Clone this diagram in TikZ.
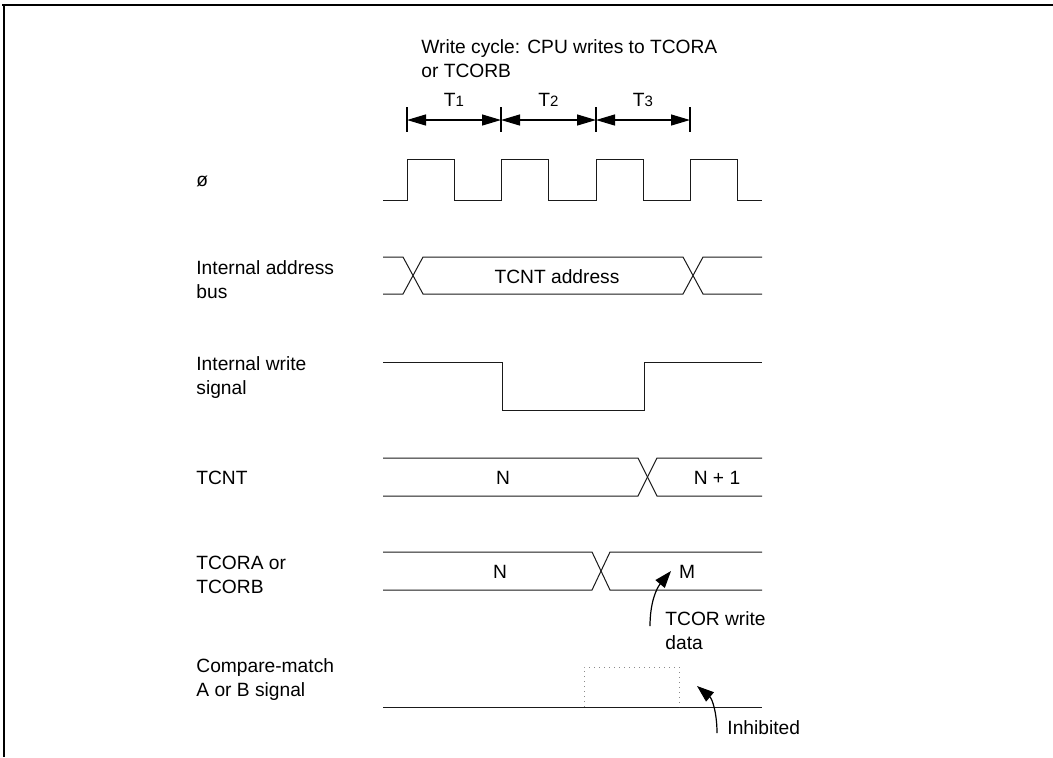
\documentclass[tikz,border=0pt]{standalone}
\usepackage{fontspec}
\setmainfont{Liberation Sans}
\usetikzlibrary{arrows.meta}
\definecolor{sigInk}{HTML}{1A1A1A}
\definecolor{dotGrey}{HTML}{8A8A8A}

\begin{document}
\begin{tikzpicture}[x=0.5pt, y=-0.5pt,
   font=\fontsize{9.6}{12}\selectfont,
   lbl/.style={anchor=west, align=left, inner sep=0pt},
   val/.style={inner sep=0pt},
   wave/.style={draw=sigInk, line width=0.5pt, line join=miter},
   span/.style={{Triangle[length=9.5pt,width=5.5pt]}-{Triangle[length=9.5pt,width=5.5pt]},
                line width=0.6pt},
   note/.style={-{Triangle[length=8.5pt,width=6pt]}, line width=0.6pt}]
\useasboundingbox (0,0) rectangle (1053,757);

\draw[line width=1pt] (2,5) -- (1053,5);
\draw[line width=1pt] (4,5) -- (4,757);

\node[anchor=north west, align=left, inner sep=0pt] (title) at (421,39)
  {Write cycle: CPU writes to TCORA\\or TCORB};

\foreach \t in {407,501,596,690}
  \draw[line width=0.6pt] (\t,107) -- (\t,132);
\foreach \a/\b/\n in {407/501/1, 501/596/2, 596/690/3} {
  \draw[span] (\a,120) -- (\b,120);
  \node[val] (t\n) at ({(\a+\b)/2},100) {T{\fontsize{7.5}{9}\selectfont\n}};
}

\node[lbl] (phi)   at (196,181) {ø};
\node[lbl] (abus)  at (196,280) {Internal address\\bus};
\node[lbl] (wr)    at (196,378) {Internal write\\signal};
\node[lbl] (tcnt)  at (196,478) {TCNT};
\node[lbl] (tcor)  at (196,575) {TCORA or\\TCORB};
\node[lbl] (cmp)   at (196,680) {Compare-match\\A or B signal};

\draw[wave] (383,200)
  \foreach \r in {407,501,596,690} { -- (\r,200) -- (\r,159) -- (\r+47,159) -- (\r+47,200) }
  -- (762,200);

\draw[wave] (383,257) -- (403,257) -- (423,294) -- (683,294) -- (703,257) -- (762,257);
\draw[wave] (383,294) -- (403,294) -- (423,257) -- (683,257) -- (703,294) -- (762,294);
\node[val] (addr) at (557,277) {TCNT address};

\draw[wave] (383,362) -- (502,362) -- (502,410) -- (644,410) -- (644,362) -- (762,362);

\draw[wave] (383,458) -- (638,458) -- (657,496) -- (762,496);
\draw[wave] (383,496) -- (638,496) -- (657,458) -- (762,458);
\node[val] (cntn)  at (503,478) {N};
\node[val] (cntn1) at (717,478) {N + 1};

\draw[wave] (383,552) -- (592,552) -- (610,590) -- (762,590);
\draw[wave] (383,590) -- (592,590) -- (610,552) -- (762,552);
\node[val] (corn) at (500,572) {N};
\node[val] (corm) at (687,572) {M};

\draw[wave] (383,707) -- (762,707);
\draw[dotGrey, dotted, line width=0.5pt] (584,707) -- (584,667) -- (679,667) -- (679,707);

\node[anchor=north west, align=left, inner sep=0pt] (wdata) at (665,611)
  {TCOR write\\data};
\node[anchor=west, inner sep=0pt] (inh) at (727,728) {Inhibited};
\coordinate (wtail) at (650,626);
\coordinate (wtip)  at (671,571);
\coordinate (itail) at (717,733);
\coordinate (itip)  at (697,686);
\draw[note] (wtail) to[out=90, in=230] (wtip);
\draw[note] (itail) to[out=90, in=-40] (itip);
\end{tikzpicture}
\end{document}
